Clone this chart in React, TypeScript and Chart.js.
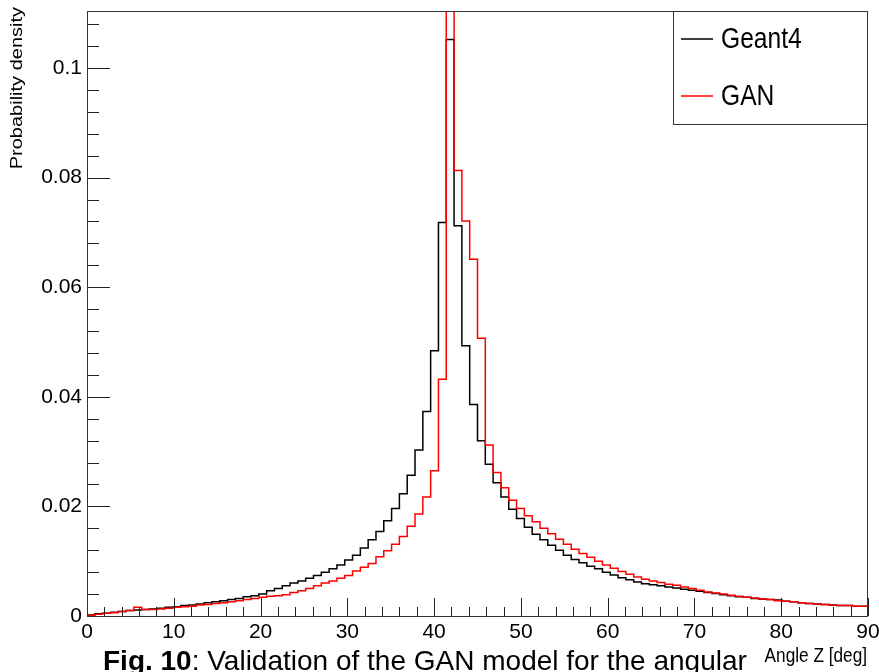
import React, { useEffect, useRef } from "react";
import { Chart, registerables } from "chart.js";

Chart.register(...registerables);

// Histogram: 100 bins of 0.9 deg over 0–90 deg
const BIN_WIDTH = 0.9;
const X_MIN = 0;
const X_MAX = 90;
const Y_MIN = 0;
const Y_MAX = 0.1104;

const X_TICKS = [0, 10, 20, 30, 40, 50, 60, 70, 80, 90];
const Y_TICKS = [0, 0.02, 0.04, 0.06, 0.08, 0.1];
const X_MINOR_STEP = 2;
const Y_MINOR_STEP = 0.004;

const SERIES_NAMES = ["Geant4", "GAN"];

const GEANT4 = [
  0.0002, 0.0004, 0.0005, 0.0007, 0.0008, 0.0010, 0.0011, 0.0012, 0.0013, 0.0014,
  0.0016, 0.0017, 0.0019, 0.0020, 0.0022, 0.0024, 0.0026, 0.0028, 0.0030, 0.0032,
  0.0035, 0.0037, 0.0040, 0.0046, 0.0050, 0.0055, 0.0060, 0.0064, 0.0069, 0.0074,
  0.0080, 0.0086, 0.0093, 0.0102, 0.0111, 0.0124, 0.0139, 0.0154, 0.0174, 0.0196,
  0.0223, 0.0257, 0.0303, 0.0373, 0.0484, 0.0718, 0.1052, 0.0712, 0.0493, 0.0386,
  0.0320, 0.0277, 0.0243, 0.0217, 0.0195, 0.0178, 0.0162, 0.0149, 0.0139, 0.0129,
  0.0120, 0.0111, 0.0103, 0.0097, 0.0091, 0.0086, 0.0080, 0.0075, 0.0070, 0.0066,
  0.0062, 0.0059, 0.0057, 0.0055, 0.0053, 0.0051, 0.0049, 0.0047, 0.0045, 0.0043,
  0.0041, 0.0039, 0.0037, 0.0035, 0.0034, 0.0032, 0.0031, 0.0030, 0.0029, 0.0027,
  0.0026, 0.0024, 0.0023, 0.0022, 0.0021, 0.0020, 0.0019, 0.0019, 0.0018, 0.0018,
];

const GAN = [
  0.0001, 0.0003, 0.0005, 0.0006, 0.0008, 0.0010, 0.0016, 0.0012, 0.0012, 0.0013,
  0.0014, 0.0016, 0.0017, 0.0018, 0.0020, 0.0021, 0.0023, 0.0024, 0.0026, 0.0028,
  0.0030, 0.0032, 0.0034, 0.0036, 0.0037, 0.0039, 0.0043, 0.0046, 0.0050, 0.0055,
  0.0060, 0.0064, 0.0069, 0.0074, 0.0082, 0.0089, 0.0096, 0.0108, 0.0119, 0.0131,
  0.0145, 0.0164, 0.0186, 0.0217, 0.0265, 0.0432, 0.1400, 0.0813, 0.0721, 0.0651,
  0.0507, 0.0312, 0.0262, 0.0234, 0.0211, 0.0196, 0.0183, 0.0172, 0.0160, 0.0150,
  0.0140, 0.0131, 0.0122, 0.0114, 0.0107, 0.0100, 0.0093, 0.0087, 0.0081, 0.0076,
  0.0071, 0.0067, 0.0064, 0.0061, 0.0058, 0.0056, 0.0053, 0.0050, 0.0047, 0.0044,
  0.0042, 0.0040, 0.0038, 0.0036, 0.0034, 0.0033, 0.0031, 0.0030, 0.0028, 0.0027,
  0.0026, 0.0024, 0.0023, 0.0022, 0.0021, 0.0020, 0.0019, 0.0019, 0.0018, 0.0018,
];

const COLORS = ["#000000", "#ff0000"];

const Y_TITLE = "Probability density";
const X_TITLE = "Angle Z [deg]";

const FONT = "'Liberation Sans', Arial, sans-serif";
const SQUEEZE = 0.82;

function toSteps(values: number[]) {
  const pts = values.map((v, i) => ({ x: X_MIN + i * BIN_WIDTH, y: v }));
  pts.push({ x: X_MAX, y: values[values.length - 1] });
  return pts;
}

function squeezedText(ctx: any, text: string, x: number, y: number, sx: number, align: string, baseline: string, font: string) {
  ctx.save();
  ctx.translate(x, y);
  ctx.scale(sx, 1);
  ctx.font = font;
  ctx.textAlign = align;
  ctx.textBaseline = baseline;
  ctx.fillStyle = "#000";
  ctx.fillText(text, 0, 0);
  ctx.restore();
}

const rootStyle = {
  id: "rootStyle",
  afterDatasetsDraw(chart: any) {
    const { ctx, chartArea: a, scales } = chart;
    const xs = scales.x;
    const ys = scales.y;
    ctx.save();
    ctx.strokeStyle = "#222";
    ctx.lineWidth = 1;
    ctx.beginPath();
    for (let v = X_MIN; v <= X_MAX + 1e-9; v += X_MINOR_STEP) {
      const px = Math.round(xs.getPixelForValue(v)) + 0.5;
      const major = Math.abs(v / 10 - Math.round(v / 10)) < 1e-6;
      const len = major ? 18 : 9;
      ctx.moveTo(px, a.bottom);
      ctx.lineTo(px, a.bottom - len);
    }
    for (let k = 0; k * Y_MINOR_STEP <= Y_MAX + 1e-9; k++) {
      const v = k * Y_MINOR_STEP;
      const py = Math.round(ys.getPixelForValue(v)) + 0.5;
      const major = k % 5 === 0;
      const len = major ? 23 : 12;
      ctx.moveTo(a.left, py);
      ctx.lineTo(a.left + len, py);
    }
    ctx.stroke();
    // frame
    ctx.strokeStyle = "#333";
    ctx.strokeRect(Math.round(a.left) + 0.5, Math.round(a.top) + 0.5, Math.round(a.right - a.left) - 1, Math.round(a.bottom - a.top));

    // legend box
    const lx = 673, ly = Math.round(a.top), lw = Math.round(a.right) - 673, lh = 113;
    ctx.fillStyle = "#ffffff";
    ctx.fillRect(lx, ly, lw, lh);
    ctx.strokeStyle = "#333";
    ctx.strokeRect(lx + 0.5, ly + 0.5, lw - 1, lh);
    const rows = [39, 96];
    SERIES_NAMES.forEach((name, i) => {
      ctx.strokeStyle = COLORS[i];
      ctx.lineWidth = 1.5;
      ctx.beginPath();
      ctx.moveTo(681, rows[i]);
      ctx.lineTo(713, rows[i]);
      ctx.stroke();
      squeezedText(ctx, name, 721, rows[i] + 1, SQUEEZE, "left", "middle", `30px ${FONT}`);
    });

    // y title (rotated)
    ctx.save();
    ctx.translate(18, 7);
    ctx.scale(0.8, 1);
    ctx.rotate(-Math.PI / 2);
    ctx.fillStyle = "#000";
    ctx.font = `20px ${FONT}`;
    ctx.textAlign = "right";
    ctx.textBaseline = "middle";
    ctx.fillText(Y_TITLE, 0, 0);
    ctx.restore();

    // x title
    squeezedText(ctx, X_TITLE, Math.round(a.right) - 1, 646, SQUEEZE, "right", "top", `21px ${FONT}`);
    ctx.restore();
  },
};

function noPad(s: any) {
  s.paddingTop = 0;
  s.paddingBottom = 0;
  s.paddingLeft = 0;
  s.paddingRight = 0;
}

export default function App() {
  const ref = useRef<HTMLCanvasElement>(null);
  useEffect(() => {
    document.body.style.margin = "0";
    const canvas = ref.current!;
    const chart = new Chart(canvas, {
      type: "line",
      data: {
        datasets: [
          {
            label: SERIES_NAMES[0],
            data: toSteps(GEANT4),
            borderColor: COLORS[0],
            borderWidth: 1.5,
            pointRadius: 0,
            stepped: true,
            fill: false,
            order: 1,
          },
          {
            label: SERIES_NAMES[1],
            data: toSteps(GAN),
            borderColor: COLORS[1],
            borderWidth: 1.5,
            pointRadius: 0,
            stepped: true,
            fill: false,
            order: 0,
          },
        ],
      },
      options: {
        animation: false,
        responsive: false,
        devicePixelRatio: 1,
        layout: { padding: { left: 0, top: 11, right: 11, bottom: 0 } },
        plugins: { legend: { display: false }, tooltip: { enabled: false } },
        scales: {
          x: {
            type: "linear",
            min: X_MIN,
            max: X_MAX,
            grid: { display: false, drawTicks: false },
            border: { display: false },
            afterBuildTicks: (s: any) => {
              s.ticks = X_TICKS.map((v) => ({ value: v }));
            },
            afterFit: (s: any) => {
              s.height = 56;
              noPad(s);
            },
            ticks: {
              autoSkip: false,
              maxRotation: 0,
              padding: 4,
              color: "#000",
              font: { family: FONT, size: 21 },
              callback: (v: any) => String(v),
            },
          },
          y: {
            type: "linear",
            min: Y_MIN,
            max: Y_MAX,
            grid: { display: false, drawTicks: false },
            border: { display: false },
            afterBuildTicks: (s: any) => {
              s.ticks = Y_TICKS.map((v) => ({ value: v }));
            },
            afterFit: (s: any) => {
              s.width = 87;
              noPad(s);
            },
            ticks: {
              autoSkip: false,
              padding: 5,
              color: "#000",
              font: { family: FONT, size: 21 },
              callback: (v: any) => String(v),
            },
          },
        },
      },
      plugins: [rootStyle],
    });
    return () => chart.destroy();
  }, []);

  return (
    <div style={{ position: "fixed", left: 0, top: 0, width: 879, height: 672, background: "#fff", overflow: "hidden" }}>
      <canvas ref={ref} width={879} height={672} style={{ display: "block", width: 879, height: 672 }} />
      <div
        style={{
          position: "absolute",
          left: 103,
          top: 645,
          fontFamily: FONT,
          fontSize: 28,
          whiteSpace: "nowrap",
          color: "#000",
        }}
      >
        <b>Fig. 10</b>: Validation of the GAN model for the angular
      </div>
    </div>
  );
}
